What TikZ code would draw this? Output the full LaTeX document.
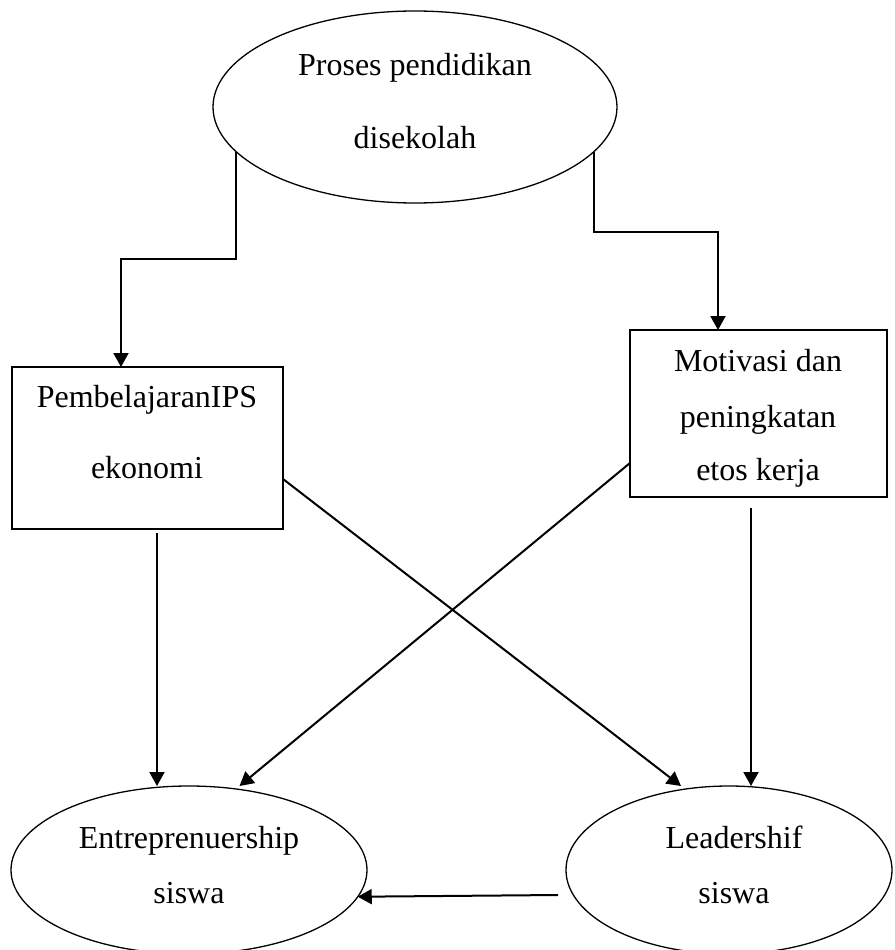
\documentclass[tikz,border=0pt]{standalone}
\usepackage{fontspec}
\setmainfont{Liberation Serif}
\usetikzlibrary{arrows.meta,shapes.geometric}
\begin{document}
\begin{tikzpicture}[x=1pt,y=-1pt,
  shapeline/.style={draw=black,line width=1.3pt,inner sep=0pt,outer sep=0pt},
  ellbox/.style={shapeline,ellipse},
  rectbox/.style={shapeline,rectangle},
  txt/.style={inner sep=0pt,anchor=base,font=\fontsize{32}{38}\selectfont},
  conn/.style={line width=2pt,-{Triangle[length=14pt,width=15pt]}}]
\useasboundingbox (0,0) rectangle (894,950);
% shapes
\node[ellbox,minimum width=404pt,minimum height=192pt] (top) at (415,107) {};
\node[rectbox,minimum width=271pt,minimum height=162pt] (pb) at (147.5,448) {};
\node[rectbox,minimum width=257pt,minimum height=167pt] (mo) at (758.5,413.5) {};
\node[ellbox,minimum width=356pt,minimum height=168pt] (ent) at (189,870) {};
\node[ellbox,minimum width=326pt,minimum height=168pt] (lea) at (729,870) {};
% texts
\node[txt] (t1) at (415,75) {Proses pendidikan};
\node[txt] (t2) at (415,148) {disekolah};
\node[txt] (t3) at (147,407) {PembelajaranIPS};
\node[txt] (t4) at (147,478) {ekonomi};
\node[txt] (t5) at (758,371) {Motivasi dan};
\node[txt] (t6) at (758,427) {peningkatan};
\node[txt] (t7) at (758,480) {etos kerja};
\node[txt] (t8) at (189,848) {Entreprenuership};
\node[txt] (t9) at (189,903) {siswa};
\node[txt] (t10) at (734,848) {Leadershif};
\node[txt] (t11) at (734,903) {siswa};
% connectors
\draw[conn] (top.194) -- ++(0,107) -| ([xshift=-26.5pt]pb.north);
\draw[conn] (top.346.5) -- ++(0,80) -| ([xshift=-40.5pt]mo.north);
\draw[conn] ([xshift=9.5pt,yshift=-4pt]pb.south) -- ([xshift=-32pt]ent.north);
\draw[conn] ([yshift=-31pt]pb.east) -- ([xshift=-48pt]lea.north);
\draw[conn] ([yshift=-49.5pt]mo.west) -- ([xshift=50.5pt]ent.north);
\draw[conn] ([xshift=-7.5pt,yshift=-11pt]mo.south) -- ([xshift=22pt]lea.north);
\draw[conn] ([xshift=-8pt,yshift=-25pt]lea.west) -- (ent.-9);
\end{tikzpicture}
\end{document}
